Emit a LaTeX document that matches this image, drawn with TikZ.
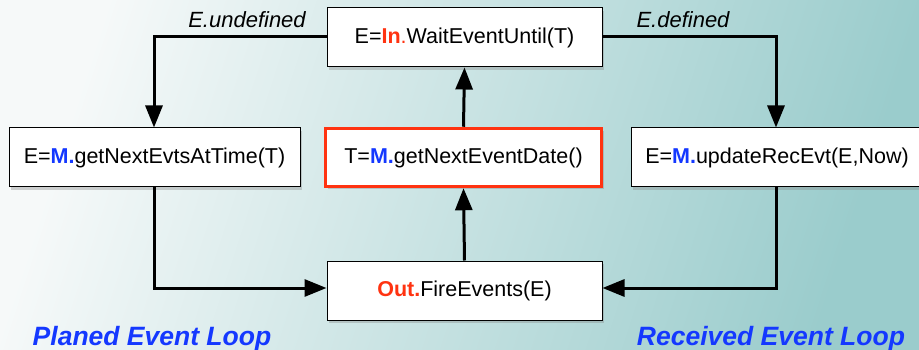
\documentclass[tikz,border=0pt]{standalone}
\usepackage{fontspec}
\setmainfont{Liberation Sans}
\usetikzlibrary{shadows,arrows.meta}
\definecolor{bgA}{HTML}{F6F9F9}
\definecolor{bgB}{HTML}{9ACCCC}
\definecolor{mred}{HTML}{FF3311}
\definecolor{mblue}{HTML}{1438FF}
\tikzset{
  box/.style={draw=black, line width=1pt, fill=white, minimum height=59pt, inner sep=0pt,
    font=\fontsize{21.5}{23}\selectfont, drop shadow={shadow xshift=2pt, shadow yshift=-3pt, opacity=0.35}},
  redbox/.style={box, draw=mred, line width=3.5pt},
  conn/.style={line width=3pt, -{Triangle[length=22pt,width=17pt]}},
  cond/.style={font=\fontsize{22}{24}\selectfont\itshape},
  looplbl/.style={font=\fontsize{26.5}{28}\selectfont\bfseries\itshape, text=mblue},
}
\newcommand{\Mb}{\textcolor{mblue}{\textbf{M.}}}
\begin{document}
\begin{tikzpicture}[x=1pt,y=-1pt]
\shade[left color=bgA, right color=bgB, shading angle=72] (0,0) rectangle (919,350);
\useasboundingbox (0,0) rectangle (919,350);
\node[box, minimum width=275pt] (wait) at (464.5,37.5) {E=\textcolor{mred}{\textbf{In}}\textcolor{mred}{.}WaitEventUntil(T)};
\node[box, minimum width=291pt] (left) at (154.5,157.5) {E=\Mb getNextEvtsAtTime(T)};
\node[redbox, minimum width=276pt, minimum height=58pt] (mid) at (463.5,157.5) {T=\Mb getNextEventDate()};
\node[box, minimum width=292pt] (right) at (777,157.5) {E=\Mb updateRecEvt(E,Now)};
\node[box, minimum width=275pt] (fire) at (464.5,290.5) {\textcolor{mred}{\textbf{Out.}}FireEvents(E)};
\coordinate (tl) at (154,37);
\coordinate (tr) at (776,37);
\coordinate (bl) at (154,288);
\coordinate (br) at (776,288);
\draw[conn] (wait.west |- tl) -- (tl) -- (left.north -| tl);
\draw[conn] (wait.east |- tr) -- (tr) -- (right.north -| tr);
\draw[conn] (left.south -| bl) -- (bl) -- (fire.west |- bl);
\draw[conn] (right.south -| br) -- (br) -- (fire.east |- br);
\draw[conn] (fire.north) -- (mid.north |- mid.south);
\draw[conn] (mid.north) -- (wait.south);
\node[cond, anchor=base] (lu) at (247,28) {E.undefined};
\node[cond, anchor=base] (ld) at (683,28) {E.defined};
\node[looplbl, anchor=base] (pl) at (152,345) {Planed Event Loop};
\node[looplbl, anchor=base] (rl) at (771,345) {Received Event Loop};
\end{tikzpicture}
\end{document}
